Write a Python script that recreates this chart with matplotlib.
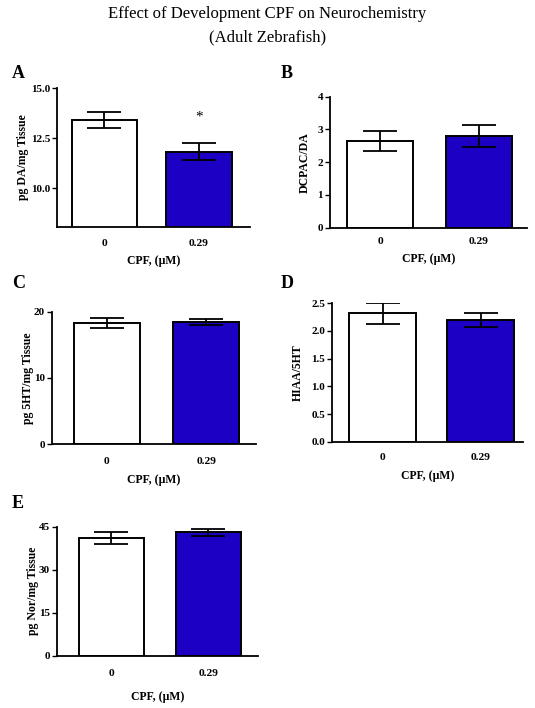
import matplotlib
matplotlib.use("Agg")
import matplotlib.pyplot as plt

plt.rcParams['font.family'] = ['Liberation Serif', 'DejaVu Serif']

categories = ["0", "0.29"]
xlabel = "CPF, (\u00b5M)"

da_mean = [13.40, 11.82]
da_sem = [0.42, 0.43]
dopac_mean = [2.65, 2.80]
dopac_sem = [0.30, 0.33]
sht_mean = [18.3, 18.45]
sht_sem = [0.7, 0.45]
hiaa_mean = [2.32, 2.20]
hiaa_sem = [0.19, 0.12]
nor_mean = [41.2, 43.0]
nor_sem = [2.1, 1.3]

ylabels = ["pg DA/mg Tissue", "DCPAC/DA", "pg 5HT/mg Tissue", "HIAA/5HT", "pg Nor/mg Tissue"]
panel_letters = ["A", "B", "C", "D", "E"]
yticks = [[10.0, 12.5, 15.0], [0, 1, 2, 3, 4], [0, 10, 20],
          [0.0, 0.5, 1.0, 1.5, 2.0, 2.5], [0, 15, 30, 45]]
ytick_fmt = ["{:.1f}", "{:d}", "{:d}", "{:.1f}", "{:d}"]
ylims = [(8.05, 15.0), (0, 4), (0, 20), (0, 2.5), (0, 45)]
means = [da_mean, dopac_mean, sht_mean, hiaa_mean, nor_mean]
sems = [da_sem, dopac_sem, sht_sem, hiaa_sem, nor_sem]

W, H = 535, 708
fig = plt.figure(figsize=(W / 100, H / 100), dpi=100)

# pixel boxes: left, right, top, bottom
boxes = [(57, 250, 88, 227), (330, 527, 96.7, 227.7), (52, 256, 311.7, 444),
         (332, 523, 303.3, 441.7), (57, 258, 526.7, 655.7)]
xlims = [(-0.50, 1.54), (-0.505, 1.485), (-0.55, 1.50), (-0.515, 1.43), (-0.56, 1.51)]
widths = [0.69, 0.67, 0.66, 0.68, 0.67]
letter_pos = [(12, 73), (281, 73), (12, 283), (281, 283), (12, 503)]
ylabel_x = [23, 305, 28, 298, 33]
ticklab_y = [243, 241, 462, 457, 674]
xlab_y = [261, 259, 480, 476, 697]

colors = ["white", "#1c00c4"]

for i in range(5):
    l, r, t, b = boxes[i]
    ax = fig.add_axes([l / W, 1 - b / H, (r - l) / W, (b - t) / H])
    xs = list(range(len(categories)))
    ax.bar(xs, means[i], width=widths[i], color=colors, edgecolor="black", linewidth=1.4,
           bottom=0, zorder=2)
    ax.errorbar(xs, means[i], yerr=sems[i], fmt="none", ecolor="black", elinewidth=1.3,
                capsize=12, capthick=1.3, zorder=3)
    ax.set_xlim(*xlims[i])
    ax.set_ylim(*ylims[i])
    ax.set_yticks(yticks[i])
    ax.set_yticklabels([ytick_fmt[i].format(v) for v in yticks[i]],
                       fontsize=8, fontweight="bold")
    ax.set_xticks(xs)
    ax.set_xticklabels([])
    ax.tick_params(axis="x", length=0)
    ax.tick_params(axis="y", length=3.5, width=1.0, pad=1.5, direction="out")
    for s in ["top", "right"]:
        ax.spines[s].set_visible(False)
    for s in ["left", "bottom"]:
        ax.spines[s].set_linewidth(1.3)
    for x, c in zip(xs, categories):
        xp = ax.transData.transform((x, 0))[0]
        fig.text(xp / W, 1 - ticklab_y[i] / H, c, ha="center", va="center",
                 fontsize=8.2, fontweight="bold")
    fig.text((l + r) / 2 / W, 1 - xlab_y[i] / H, xlabel, ha="center", va="center",
             fontsize=8.5, fontweight="bold")
    fig.text(ylabel_x[i] / W, 1 - (t + b) / 2 / H, ylabels[i], rotation=90,
             ha="center", va="center", fontsize=8.5, fontweight="bold")
    fig.text(letter_pos[i][0] / W, 1 - letter_pos[i][1] / H, panel_letters[i],
             ha="left", va="center", fontsize=13, fontweight="bold")
    if i == 0:
        ax.text(1, da_mean[1] + da_sem[1] + 1.3, "*", ha="center", va="center",
                fontsize=11)

fig.text(0.5, 1 - 14 / H, "Effect of Development CPF on Neurochemistry", ha="center",
         va="center", fontsize=12)
fig.text(0.5, 1 - 37 / H, "(Adult Zebrafish)", ha="center", va="center", fontsize=12)

fig.savefig("out.png", dpi=100)
